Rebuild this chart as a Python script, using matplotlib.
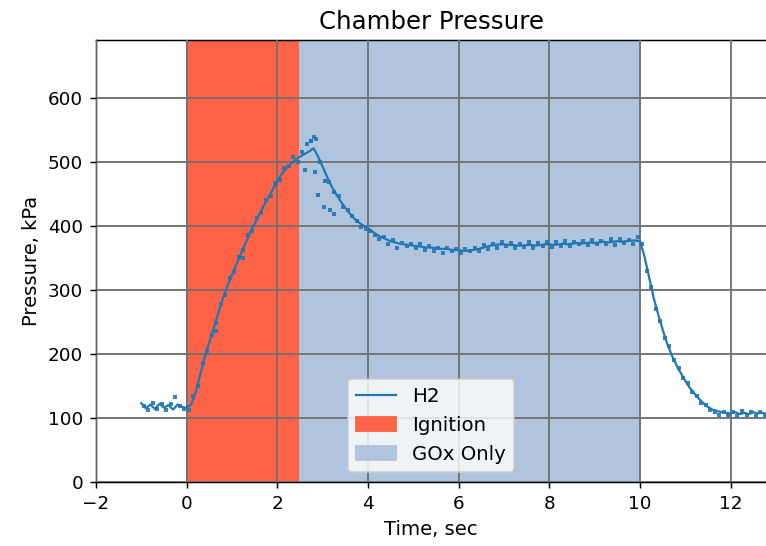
import matplotlib
matplotlib.use('Agg')
import matplotlib.pyplot as plt
import numpy as np

# chamber pressure trace, sampled every 0.1 s from t = -1.0 s
t_start = -1.0
t_step = 0.1
p_line = [
    123, 115, 121, 114, 122, 116, 120, 113, 121, 117,
    116, 121, 140, 168, 195, 218, 241, 264, 287, 306,
    323, 340, 357, 373, 389, 403, 417, 431, 444, 457,
    470, 481, 490, 497, 503, 508, 512, 516, 521, 508,
    492, 476, 461, 449, 438, 428, 419, 411, 405, 400,
    396, 391, 386, 382, 379, 376, 374, 372, 371, 370,
    369, 368, 367, 366, 366, 365, 364, 364, 363, 362,
    362, 361, 361, 362, 363, 365, 367, 369, 370, 371,
    371, 370, 370, 369, 369, 370, 370, 369, 370, 371,
    371, 370, 371, 372, 371, 372, 373, 372, 373, 374,
    373, 374, 375, 374, 375, 376, 375, 376, 377, 377,
    376, 352, 320, 288, 262, 238, 216, 198, 183, 170,
    158, 147, 138, 130, 123, 117, 113, 111, 109, 108,
    107, 109, 106, 108, 106, 109, 107, 108, 106,
]

# raw sensor samples, offset half a step from the trace
p_dots = [
    118, 112, 124, 114, 121, 113, 122, 132, 118, 114,
    113, 135, 150, 185, 204, 230, 248, 278, 292, 318,
    328, 352, 362, 385, 392, 412, 420, 440, 446, 466,
    472, 490, 493, 508, 500, 515, 528, 532, 536, 500,
    470, 468, 452, 446, 430, 425, 415, 408, 398, 395,
    392, 385, 380, 383, 372, 378, 366, 373, 368, 372,
    365, 372, 362, 368, 360, 366, 358, 365, 360, 364,
    357, 364, 360, 366, 361, 370, 364, 372, 366, 374,
    368, 373, 366, 372, 367, 374, 366, 373, 368, 375,
    367, 374, 369, 376, 368, 375, 371, 377, 370, 378,
    371, 376, 372, 379, 370, 380, 373, 378, 372, 382,
    372, 330, 305, 270, 252, 225, 212, 190, 178, 163,
    155, 140, 135, 124, 120, 112, 110, 104, 110, 104,
    110, 103, 111, 104, 109, 103, 110, 104,
]

# stray samples around the pressure peak
extra_t = [0.65, 1.25, 2.62, 2.75, 2.82, 2.84, 2.90, 3.02, 3.17, 3.24]
extra_p = [235, 350, 487, 533, 538, 484, 448, 430, 425, 418]

t_line = t_start + t_step * np.arange(len(p_line))
t_dots = t_start + t_step / 2 + t_step * np.arange(len(p_dots))

fig = plt.figure(figsize=(766 / 132, 546 / 132), dpi=132)
ax = fig.add_axes([96 / 766, 64 / 546, 1 - 96 / 766, 442 / 546])

ax.plot(t_line, p_line, color='tab:blue', lw=1.2, label='H2', zorder=3)
ax.plot(t_dots, p_dots, 's', color='tab:blue', ms=2.2, mew=0, alpha=0.9, zorder=3)
ax.plot(extra_t, extra_p, 's', color='tab:blue', ms=2.2, mew=0, alpha=0.9, zorder=3)

ax.axvspan(0, 2.5, color='tomato', label='Ignition', zorder=0)
ax.axvspan(2.5, 10, color='lightsteelblue', label='GOx Only', zorder=0)

ax.grid(True, color='#707070', lw=1.0, zorder=1)
ax.set_axisbelow(False)
ax.set_xlim(-2, 12.78)
ax.set_ylim(0, 690)
ax.set_xticks(np.arange(-2, 13, 2))
ax.set_yticks(np.arange(0, 700, 100))
ax.spines['right'].set_visible(False)

ax.set_title('Chamber Pressure', fontsize=13.3)
ax.set_xlabel('Time, sec', fontsize=10.7)
ax.set_ylabel('Pressure, kPa', fontsize=10.7)
ax.legend(loc='lower center', fontsize=10.8)

fig.savefig('out.png', dpi=132)
